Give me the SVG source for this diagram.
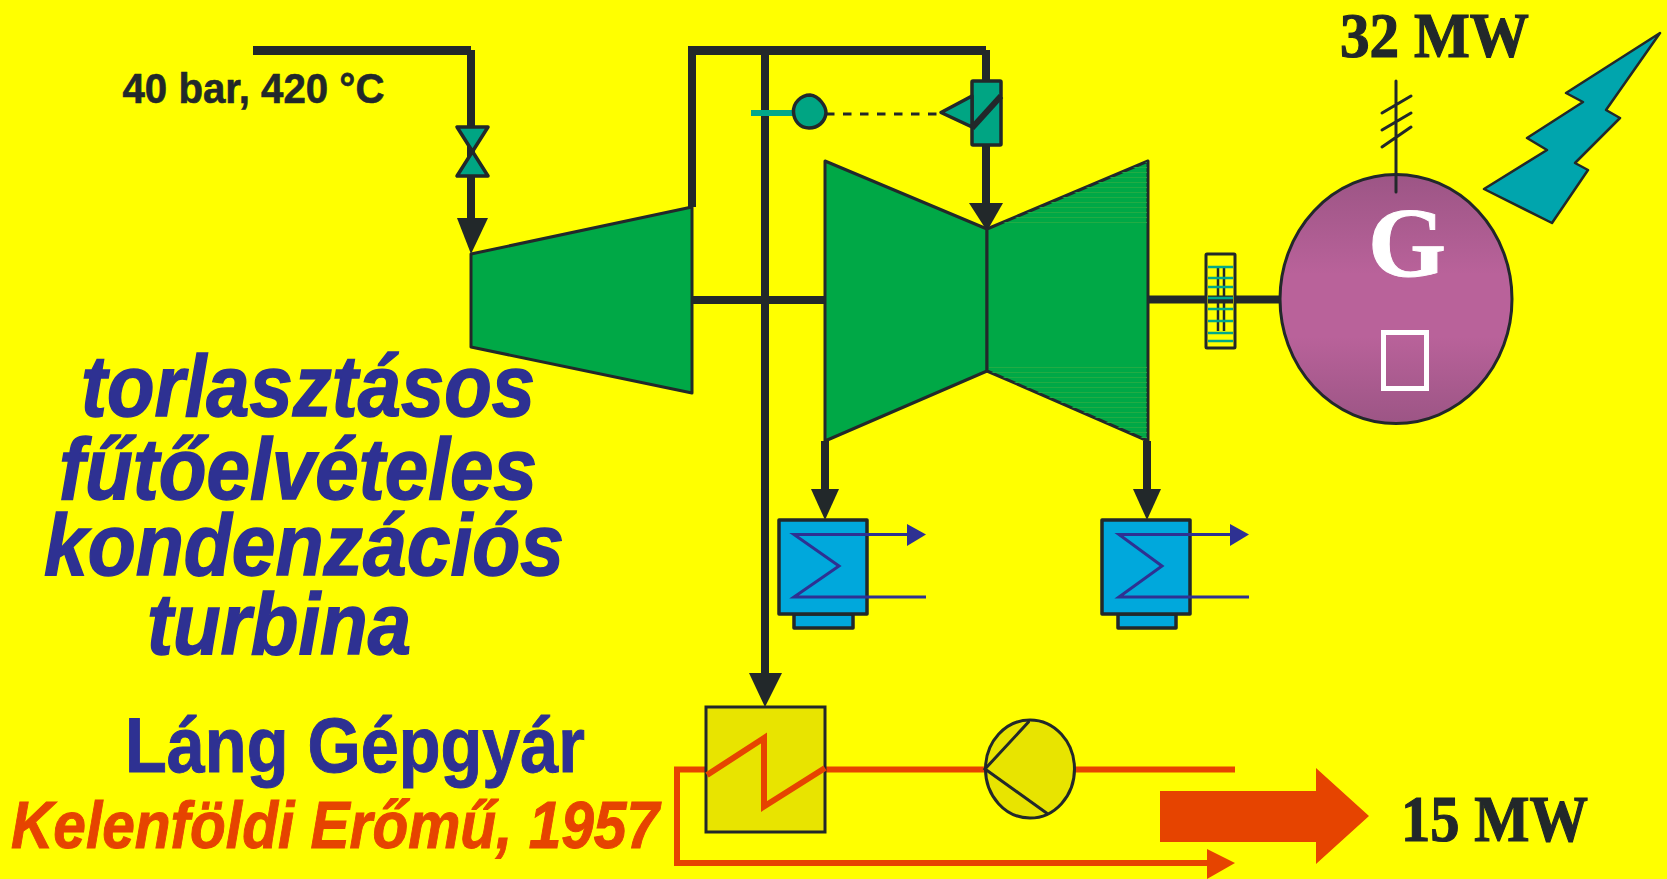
<svg xmlns="http://www.w3.org/2000/svg" width="1667" height="879" viewBox="0 0 1667 879">
<style>
.pipe{fill:none;stroke:#22282a;stroke-width:8}
.pipeh{fill:none;stroke:#22282a;stroke-width:9}
.head{fill:#22282a}
.tur{fill:#00a846;stroke:#22282a;stroke-width:3;stroke-linejoin:round}
.tv{fill:#00a583;stroke:#22282a;stroke-width:3.500;stroke-linejoin:round}
.cond{fill:#00a8dc;stroke:#22282a;stroke-width:3.500;stroke-linejoin:round}
.coil{fill:none;stroke:#2e3192;stroke-width:3}
.blue{fill:#2e3192}
.hot{fill:none;stroke:#e64400;stroke-width:6}
.yel{fill:#e8e400;stroke:#22282a;stroke-width:3}
.thin{fill:none;stroke:#22282a;stroke-width:3;stroke-linecap:round}
.big{font-family:"Liberation Sans",Arial,sans-serif;font-weight:bold}
.ser{font-family:"Liberation Serif","Times New Roman",serif;font-weight:bold}
.ttl{font-size:88px;font-style:italic;fill:#2e3192;stroke:#2e3192;stroke-width:1.500}
</style>
<defs>
<linearGradient id="gen" x1="0" y1="0" x2="0" y2="1">
<stop offset="0" stop-color="#9c5585"/><stop offset="0.4" stop-color="#b9629a"/><stop offset="0.65" stop-color="#b9629a"/><stop offset="1" stop-color="#9c5585"/>
</linearGradient>
<pattern id="stripes" width="6" height="5" patternUnits="userSpaceOnUse">
<rect y="2" width="6" height="1" fill="#22ac44"/>
</pattern>
<clipPath id="lpr"><path d="M989 229L1147 162V440L989 371Z"/></clipPath>
</defs>
<rect width="1667" height="879" fill="#ffff00"/>
<g id="connectors">
<path class="pipeh" d="M253 50.500H471"/>
<path class="pipe" d="M471 50V220"/>
<path class="pipeh" d="M688 50.500H986"/>
<path class="pipe" d="M692 50V207"/>
<path class="pipe" d="M986 50V205"/>
<path class="pipe" d="M765 50V675"/>
<path class="pipe" d="M692 300H825"/>
<path class="pipe" d="M1148 299.500H1282"/>
<path class="pipe" d="M825 441V492"/>
<path class="pipe" d="M1147 441V492"/>
<path class="head" d="M457 218H488L471 254Z"/>
<path class="head" d="M969 203H1003L987 231Z"/>
<path class="head" d="M749 673H782L765 707Z"/>
<path class="head" d="M811 489H839L825 520Z"/>
<path class="head" d="M1133 489H1161L1147 520Z"/>
<path d="M826 114H940" fill="none" stroke="#22282a" stroke-width="3" stroke-dasharray="8.500 8.500"/>
<path d="M751 113H794" fill="none" stroke="#00a88a" stroke-width="6"/>
<path class="hot" d="M706 769.500H677V863H1208"/>
<path class="hot" d="M825 769.500H985"/>
<path class="hot" d="M1074 769.500H1235"/>
<path d="M1207 849L1235 863L1207 879Z" fill="#e64400"/>
</g>
<g id="steam-label"><text class="big" x="122.500" y="102.500" font-size="42" fill="#22282a" stroke="#22282a" stroke-width="0.600" textLength="262" lengthAdjust="spacingAndGlyphs">40 bar, 420 °C</text></g>
<g id="valve"><path class="tv" d="M457 127H488L457 176H488Z"/></g>
<g id="hp-turbine"><path class="tur" d="M471 254L692 207V393L471 347Z"/></g>
<g id="lp-turbine">
<path class="tur" d="M825 161L987 229V371L825 441Z"/>
<path class="tur" d="M987 229L1148 161V441L987 371Z"/>
<g clip-path="url(#lpr)"><rect x="989" y="160" width="160" height="65" fill="url(#stripes)"/><rect x="989" y="365" width="160" height="77" fill="url(#stripes)"/></g>
</g>
<g id="control-valve">
<rect class="tv" x="972" y="81" width="29" height="64" rx="1"/>
<path class="tv" d="M941 112.500L972 96V127Z"/>
<path d="M972 128L1001 96" stroke="#22282a" stroke-width="6" fill="none"/>
</g>
<g id="controller"><path class="tv" d="M793.500 112C793 103 801 95 810 95C819 96 826 106 826 113C825 122 818 128 809 128C800 128 794 121 793.500 112Z"/></g>
<g id="coupling">
<rect x="1206" y="254" width="29" height="94" fill="#ffff00" stroke="#22282a" stroke-width="3" rx="1"/>
<path d="M1218 268V331M1224 268V331" stroke="#22282a" stroke-width="2.500"/>
<path d="M1208 299.500H1233" stroke="#22282a" stroke-width="8"/>
<path d="M1208 267H1233M1208 278H1233M1208 287H1233M1208 298H1233M1208 309H1233M1208 321H1233M1208 333H1233M1208 341H1233" stroke="#00a88a" stroke-width="2.500"/>
</g>
<g id="generator">
<ellipse cx="1396" cy="299" rx="116" ry="124.500" fill="url(#gen)" stroke="#22282a" stroke-width="3"/>
<path class="thin" d="M1396 81V192M1382 113L1411 96M1382 130L1411 113M1382 147L1411 127"/>
<text class="ser" x="1368" y="276" font-size="100" fill="#fff" stroke="#fff" stroke-width="1" textLength="78" lengthAdjust="spacingAndGlyphs">G</text>
<rect x="1383.500" y="332.500" width="43" height="56" fill="none" stroke="#fff" stroke-width="5"/>
</g>
<g id="power-label"><text class="ser" x="1340" y="57" font-size="64" fill="#22282a" stroke="#22282a" stroke-width="1.200" textLength="189" lengthAdjust="spacingAndGlyphs">32 MW</text></g>
<g id="lightning"><path d="M1660 33L1566 93L1583 102L1527 138L1547 150L1484 189L1552 223L1588 170L1575 163L1620 118L1606 110Z" fill="#00a5ad" stroke="#22282a" stroke-width="2.500" stroke-linejoin="round"/></g>
<g id="condenser-1">
<rect class="cond" x="794" y="614" width="59" height="14"/>
<rect class="cond" x="779" y="520" width="88" height="94"/>
<path class="coil" d="M907 534.500H794L839 566L794 597H926"/>
<path class="blue" d="M907 524L926 534.500L907 546Z"/>
</g>
<g id="condenser-2">
<rect class="cond" x="1118" y="614" width="58" height="14"/>
<rect class="cond" x="1102" y="520" width="88" height="94"/>
<path class="coil" d="M1230 534.500H1119L1162 566L1119 597H1249"/>
<path class="blue" d="M1230 524L1249 534.500L1230 546Z"/>
</g>
<g id="heat-exchanger">
<rect class="yel" x="706" y="707" width="119" height="125"/>
<path class="hot" d="M707 775L764 738V806.500L825 768"/>
</g>
<g id="pump">
<ellipse class="yel" cx="1030" cy="769" rx="44.500" ry="49"/>
<path class="thin" d="M1028.500 722L985 769L1046.500 813"/>
</g>
<g id="heat-arrow"><path d="M1160 791H1316V768L1369 816L1316 864V842H1160Z" fill="#e64400"/></g>
<g id="heat-label"><text class="ser" x="1401" y="841" font-size="66" fill="#22282a" stroke="#22282a" stroke-width="1.200" textLength="187" lengthAdjust="spacingAndGlyphs">15 MW</text></g>
<g id="title">
<text class="big ttl" x="81" y="416" textLength="454" lengthAdjust="spacingAndGlyphs">torlasztásos</text>
<text class="big ttl" x="59" y="499" textLength="478" lengthAdjust="spacingAndGlyphs">fűtőelvételes</text>
<text class="big ttl" x="44" y="575" textLength="520" lengthAdjust="spacingAndGlyphs">kondenzációs</text>
<text class="big ttl" x="147" y="654" textLength="264" lengthAdjust="spacingAndGlyphs">turbina</text>
<text class="big" x="125" y="772" font-size="78" fill="#2e3192" stroke="#2e3192" stroke-width="1" textLength="460" lengthAdjust="spacingAndGlyphs">Láng Gépgyár</text>
<text class="big" x="11" y="847.500" font-size="67" font-style="italic" fill="#e64400" stroke="#e64400" stroke-width="1" textLength="648" lengthAdjust="spacingAndGlyphs">Kelenföldi Erőmű, 1957</text>
</g>
</svg>
